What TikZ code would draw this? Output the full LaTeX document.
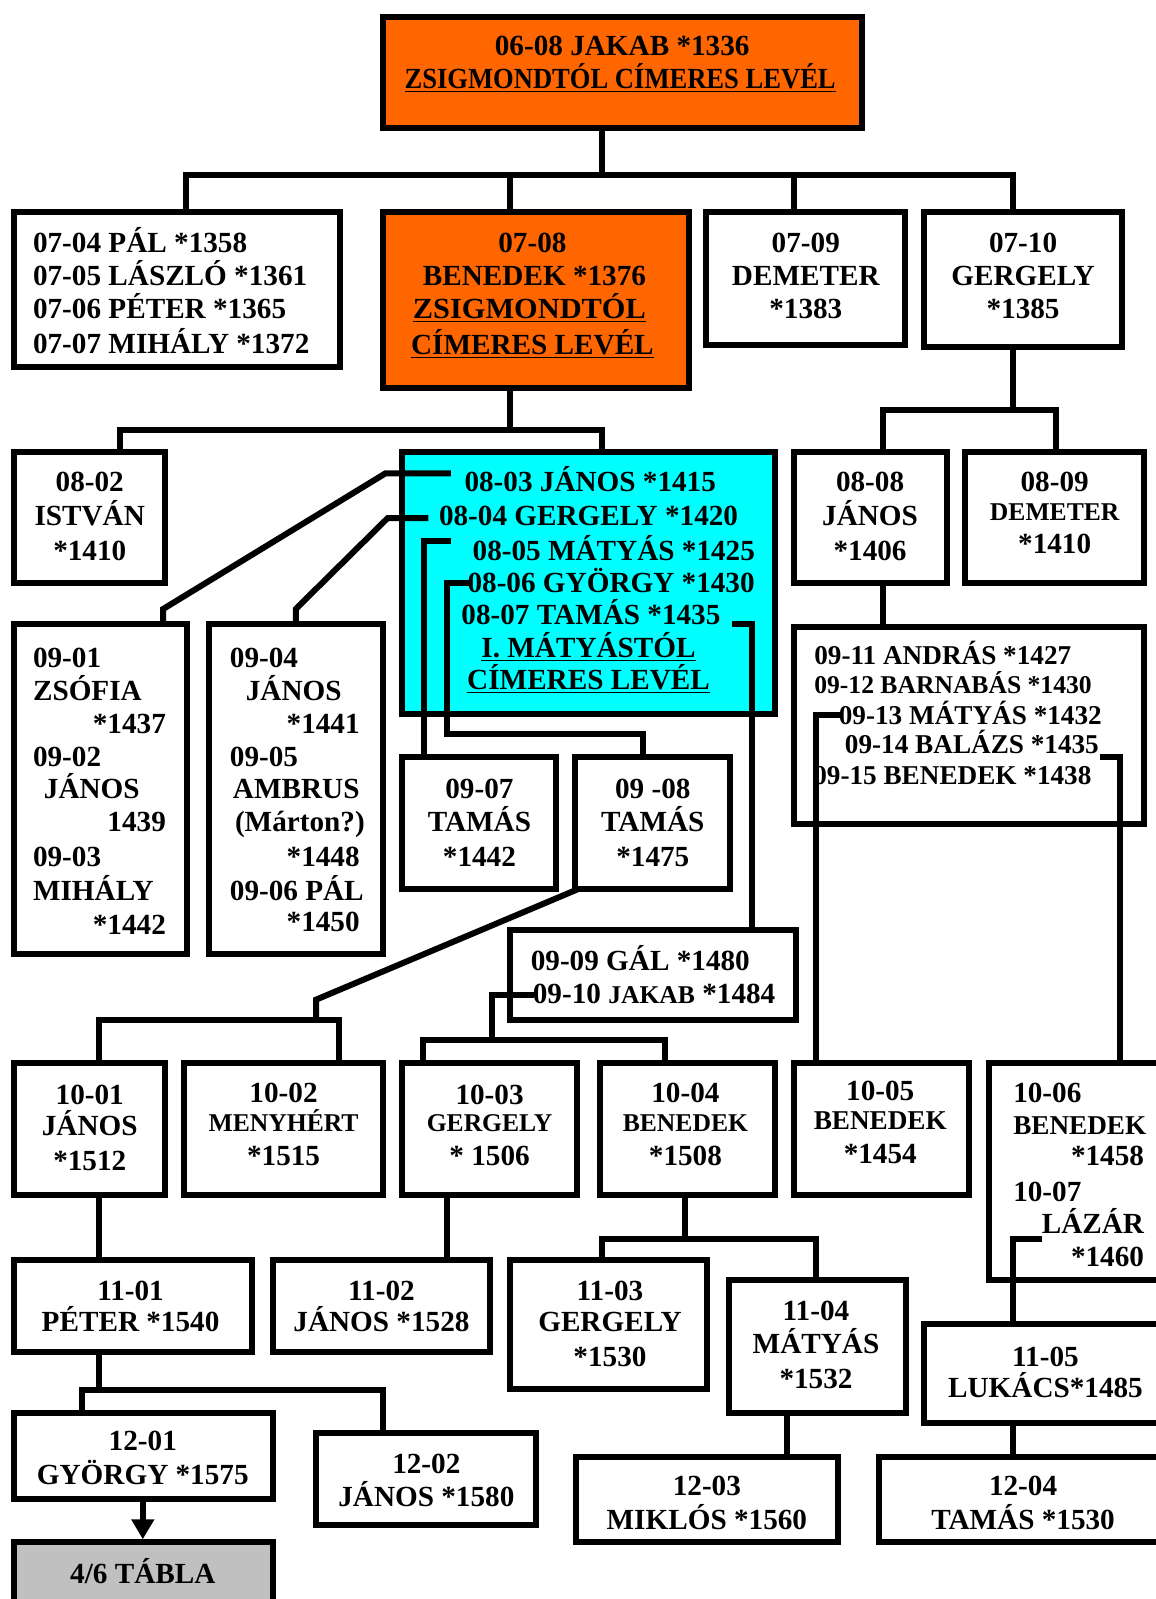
\documentclass[tikz,border=0pt]{standalone}
\usepackage{fontspec}
\setmainfont{Liberation Serif}
\usetikzlibrary{fit,arrows.meta}
\definecolor{orng}{HTML}{FF6600}
\definecolor{cyn}{HTML}{00FFFF}
\definecolor{gry}{HTML}{C0C0C0}
\newcommand\tc[4][]{\node[tx,#1] (#2) at (#3) {#4};}
\newcommand\bx[4][]{\node[box,#1,fit={(#3) (#4)}] (#2) {};}
\begin{document}
\begin{tikzpicture}[x=0.51pt,y=-0.51pt,
  box/.style={draw=black,line width=3pt,inner sep=0pt,fill=white},
  ln/.style={draw=black,line width=3pt},
  tx/.style={inner sep=0pt,font=\fontsize{14.6}{16}\selectfont\bfseries,text height=9.7pt,text depth=0pt},
  sm/.style={font=\fontsize{12.8}{14}\selectfont\bfseries,text height=8.5pt},
  md/.style={font=\fontsize{13.6}{15}\selectfont\bfseries,text height=9pt},
  L/.style={anchor=west},R/.style={anchor=east}]
\useasboundingbox (0,0) rectangle (1133.33,1567.65);

% ---------- connector joints ----------
\coordinate (jA) at (590,172);
\coordinate (jA1) at (182,172);
\coordinate (jA2) at (500,172);
\coordinate (jA3) at (778,172);
\coordinate (jA4) at (993,172);
\coordinate (jB) at (993,402);
\coordinate (jB1) at (866,402);
\coordinate (jB2) at (1035,402);
\coordinate (jC) at (500,422);
\coordinate (jC1) at (118,422);
\coordinate (jC2) at (590,422);
\coordinate (c1a) at (442,464);
\coordinate (c1b) at (378,464);
\coordinate (c1c) at (160,597);
\coordinate (c2a) at (420,508);
\coordinate (c2b) at (380,508);
\coordinate (c2c) at (290,597);
\coordinate (c3a) at (442,530);
\coordinate (c3b) at (416,530);
\coordinate (c4a) at (460,572);
\coordinate (c4b) at (438,572);
\coordinate (c4c) at (438,720);
\coordinate (c4d) at (630,720);
\coordinate (c5a) at (718,612);
\coordinate (c5b) at (737,612);
\coordinate (d1a) at (824,701);
\coordinate (d1b) at (800,701);
\coordinate (d2a) at (1078,742);
\coordinate (d2b) at (1098,742);
\coordinate (eA) at (566,872);
\coordinate (eB) at (310,980);
\coordinate (eC) at (310,1000);
\coordinate (eC1) at (97,1000);
\coordinate (eC2) at (332,1000);
\coordinate (fA) at (524,975);
\coordinate (fB) at (482,975);
\coordinate (fC) at (482,1020);
\coordinate (fC1) at (415,1020);
\coordinate (fC2) at (652,1020);
\coordinate (gA) at (97,1200);
\coordinate (gB) at (438,1200);
\coordinate (hA) at (672,1215);
\coordinate (hA1) at (590,1215);
\coordinate (hA2) at (800,1215);
\coordinate (iA) at (1022,1215);
\coordinate (iB) at (993,1215);
\coordinate (kA) at (97,1363);
\coordinate (kA1) at (80,1363);
\coordinate (kA2) at (375,1363);
\coordinate (mA) at (772,1400);
\coordinate (mB) at (993,1400);
\coordinate (nA) at (140,1490);

% ---------- boxes ----------
\bx[fill=orng]{A}{375,17}{845,125}
\bx{b0704}{14,208}{333,360}
\bx[fill=orng]{b0708}{375,208}{675,380}
\bx{b0709}{692,208}{887,338}
\bx{b0710}{906,208}{1100,340}
\bx{b0802}{14,443}{162,572}
\bx[fill=cyn]{cy}{394,443}{760,700}
\bx{b0808}{778,443}{928,572}
\bx{b0809}{946,443}{1122,572}
\bx{b0901}{14,612}{183,935}
\bx{b0904}{205,612}{375,935}
\bx{b0907}{394,742}{545,872}
\bx{b0908}{564,742}{716,872}
\bx{b0909}{500,912}{780,1000}
\bx{b0911}{778,615}{1122,808}
\bx{b1001}{14,1042}{162,1172}
\bx{b1002}{180,1042}{375,1172}
\bx{b1003}{394,1042}{566,1172}
\bx{b1004}{588,1042}{760,1172}
\bx{b1005}{778,1042}{950,1172}
\bx{b1006}{970,1042}{1145,1255}
\bx{b1101}{14,1235}{247,1325}
\bx{b1102}{268,1235}{480,1325}
\bx{b1103}{500,1235}{693,1362}
\bx{b1104}{715,1255}{888,1385}
\bx{b1105}{906,1298}{1145,1395}
\bx{b1201}{14,1385}{268,1470}
\bx[fill=gry]{tabla}{14,1512}{268,1620}
\bx{b1202}{310,1405}{525,1495}
\bx{b1203}{565,1428}{822,1512}
\bx{b1204}{862,1428}{1145,1512}

% ---------- connector lines ----------
\draw[ln] (jA |- A.south) -- (jA);
\draw[ln] (jA1 |- b0704.north) -- (jA1) -- (jA4) -- (jA4 |- b0710.north);
\draw[ln] (jA2) -- (jA2 |- b0708.north);
\draw[ln] (jA3) -- (jA3 |- b0709.north);
\draw[ln] (jB |- b0710.south) -- (jB);
\draw[ln] (jB1 |- b0808.north) -- (jB1) -- (jB2) -- (jB2 |- b0809.north);
\draw[ln] (jC |- b0708.south) -- (jC);
\draw[ln] (jC1 |- b0802.north) -- (jC1) -- (jC2) -- (jC2 |- cy.north);
\draw[ln] (c1a) -- (c1b) -- (c1c) -- (c1c |- b0901.north);
\draw[ln] (c2a) -- (c2b) -- (c2c) -- (c2c |- b0904.north);
\draw[ln] (c3a) -- (c3b) -- (c3b |- b0907.north);
\draw[ln] (c4a) -- (c4b) -- (c4c) -- (c4d) -- (c4d |- b0908.north);
\draw[ln] (c5a) -- (c5b) -- (c5b |- b0909.north);
\draw[ln] (jB1 |- b0808.south) -- (jB1 |- b0911.north);
\draw[ln] (d1a) -- (d1b) -- (d1b |- b1005.north);
\draw[ln] (d2a) -- (d2b) -- (d2b |- b1006.north);
\draw[ln] (eA) -- (eB) -- (eC);
\draw[ln] (eC1 |- b1001.north) -- (eC1) -- (eC2) -- (eC2 |- b1002.north);
\draw[ln] (fA) -- (fB) -- (fC);
\draw[ln] (fC1 |- b1003.north) -- (fC1) -- (fC2) -- (fC2 |- b1004.north);
\draw[ln] (gA |- b1001.south) -- (gA |- b1101.north);
\draw[ln] (gB |- b1003.south) -- (gB |- b1102.north);
\draw[ln] (hA |- b1004.south) -- (hA);
\draw[ln] (hA1 |- b1103.north) -- (hA1) -- (hA2) -- (hA2 |- b1104.north);
\draw[ln] (iA) -- (iB) -- (iB |- b1105.north);
\draw[ln] (kA |- b1101.south) -- (kA);
\draw[ln] (kA1 |- b1201.north) -- (kA1) -- (kA2) -- (kA2 |- b1202.north);
\draw[ln] (mA |- b1104.south) -- (mA |- b1203.north);
\draw[ln] (mB |- b1105.south) -- (mB |- b1204.north);
\draw[ln,-{Triangle[length=10pt,width=11pt]}] (nA |- b1201.south) -- (nA |- tabla.north);

% ---------- texts ----------
\tc{tA1}{610,45}{06-08 JAKAB *1336}
\tc{tA2}{608,77}{\scalebox{0.91}[1]{\underline{ZSIGMONDTÓL CÍMERES LEVÉL}}}

\tc[L]{t0704}{32,238}{07-04 PÁL *1358}
\tc[L]{t0705}{32,270}{07-05 LÁSZLÓ *1361}
\tc[L]{t0706}{32,303}{07-06 PÉTER *1365}
\tc[L]{t0707}{32,337}{07-07 MIHÁLY *1372}

\tc{t0708a}{522,238}{07-08}
\tc{t0708b}{524,270}{BENEDEK *1376}
\tc{t0708c}{519,303}{\scalebox{1.04}[1]{\underline{ZSIGMONDTÓL}}}
\tc{t0708d}{522,338}{\underline{CÍMERES LEVÉL}}

\tc{t0709a}{790,238}{07-09}
\tc{t0709b}{790,270}{DEMETER}
\tc{t0709c}{790,303}{*1383}

\tc{t0710a}{1003,238}{07-10}
\tc{t0710b}{1003,270}{GERGELY}
\tc{t0710c}{1003,303}{*1385}

\tc{t0802a}{88,472}{08-02}
\tc{t0802b}{88,506}{ISTVÁN}
\tc{t0802c}{88,540}{*1410}

\tc[L]{t0803}{455,472}{08-03 JÁNOS *1415}
\tc[L]{t0804}{430,506}{08-04 GERGELY *1420}
\tc[L]{t0805}{463,540}{08-05 MÁTYÁS *1425}
\tc[L]{t0806}{458,571}{08-06 GYÖRGY *1430}
\tc[L]{t0807}{452,603}{08-07 TAMÁS *1435}
\tc{tcy1}{577,635}{\underline{I. MÁTYÁSTÓL}}
\tc{tcy2}{577,666}{\underline{CÍMERES LEVÉL}}

\tc{t0808a}{853,472}{08-08}
\tc{t0808b}{853,506}{JÁNOS}
\tc{t0808c}{853,540}{*1406}

\tc{t0809a}{1034,472}{08-09}
\tc[sm]{t0809b}{1034,502}{DEMETER}
\tc{t0809c}{1034,533}{*1410}

\tc[L]{t0901a}{32,645}{09-01}
\tc[L]{t0901b}{32,677}{ZSÓFIA}
\tc[R]{t0901c}{163,710}{*1437}
\tc[L]{t0902a}{32,742}{09-02}
\tc{t0902b}{90,773}{JÁNOS}
\tc[R]{t0902c}{163,806}{1439}
\tc[L]{t0903a}{32,840}{09-03}
\tc[L]{t0903b}{32,873}{MIHÁLY}
\tc[R]{t0903c}{163,907}{*1442}

\tc[L]{t0904a}{225,645}{09-04}
\tc{t0904b}{288,677}{JÁNOS}
\tc[R]{t0904c}{353,710}{*1441}
\tc[L]{t0905a}{225,742}{09-05}
\tc[L]{t0905b}{228,773}{AMBRUS}
\tc[L]{t0905c}{230,806}{(Márton?)}
\tc[R]{t0905d}{353,840}{*1448}
\tc[L]{t0906a}{225,873}{09-06 PÁL}
\tc[R]{t0906b}{353,904}{*1450}

\tc{t0907a}{470,773}{09-07}
\tc{t0907b}{470,806}{TAMÁS}
\tc{t0907c}{470,840}{*1442}

\tc{t0908a}{640,773}{09 -08}
\tc{t0908b}{640,806}{TAMÁS}
\tc{t0908c}{640,840}{*1475}

\tc[L]{t0909}{520,942}{09-09 GÁL *1480}
\tc[L]{t0910}{522,974}{09-10 {\fontsize{12.8}{14}\selectfont JAKAB} *1484}

\tc[L,md]{t0911}{798,643}{09-11 ANDRÁS *1427}
\tc[L,sm]{t0912}{798,672}{09-12 BARNABÁS *1430}
\tc[L,md]{t0913}{822,701}{09-13 MÁTYÁS *1432}
\tc[L,md]{t0914}{828,730}{09-14 BALÁZS *1435}
\tc[L,md]{t0915}{797,760}{09-15 BENEDEK *1438}

\tc{t1001a}{88,1073}{10-01}
\tc{t1001b}{88,1104}{JÁNOS}
\tc{t1001c}{88,1138}{*1512}

\tc{t1002a}{278,1071}{10-02}
\tc[sm]{t1002b}{278,1101}{MENYHÉRT}
\tc{t1002c}{278,1133}{*1515}

\tc{t1003a}{480,1073}{10-03}
\tc[sm]{t1003b}{480,1101}{GERGELY}
\tc{t1003c}{480,1133}{* 1506}

\tc{t1004a}{672,1071}{10-04}
\tc[sm]{t1004b}{672,1101}{BENEDEK}
\tc{t1004c}{672,1133}{*1508}

\tc{t1005a}{863,1069}{10-05}
\tc[md]{t1005b}{863,1099}{BENEDEK}
\tc{t1005c}{863,1131}{*1454}

\tc[L]{t1006a}{993,1071}{10-06}
\tc[L,md]{t1006b}{993,1103}{BENEDEK}
\tc[R]{t1006c}{1122,1133}{*1458}
\tc[L]{t1007a}{993,1168}{10-07}
\tc[R]{t1007b}{1122,1200}{LÁZÁR}
\tc[R]{t1007c}{1122,1232}{*1460}

\tc{t1101a}{128,1265}{11-01}
\tc{t1101b}{128,1296}{PÉTER *1540}
\tc{t1102a}{374,1265}{11-02}
\tc{t1102b}{374,1296}{JÁNOS *1528}
\tc{t1103a}{598,1265}{11-03}
\tc{t1103b}{598,1296}{GERGELY}
\tc{t1103c}{598,1330}{*1530}
\tc{t1104a}{800,1285}{11-04}
\tc{t1104b}{800,1317}{MÁTYÁS}
\tc{t1104c}{800,1352}{*1532}
\tc{t1105a}{1025,1330}{11-05}
\tc{t1105b}{1025,1361}{LUKÁCS*1485}

\tc{t1201a}{140,1413}{12-01}
\tc{t1201b}{140,1446}{GYÖRGY *1575}
\tc{ttabla}{140,1543}{4/6 TÁBLA}
\tc{t1202a}{418,1435}{12-02}
\tc{t1202b}{418,1467}{JÁNOS *1580}
\tc{t1203a}{693,1457}{12-03}
\tc{t1203b}{693,1490}{MIKLÓS *1560}
\tc{t1204a}{1003,1457}{12-04}
\tc{t1204b}{1003,1490}{TAMÁS *1530}
\end{tikzpicture}
\end{document}
